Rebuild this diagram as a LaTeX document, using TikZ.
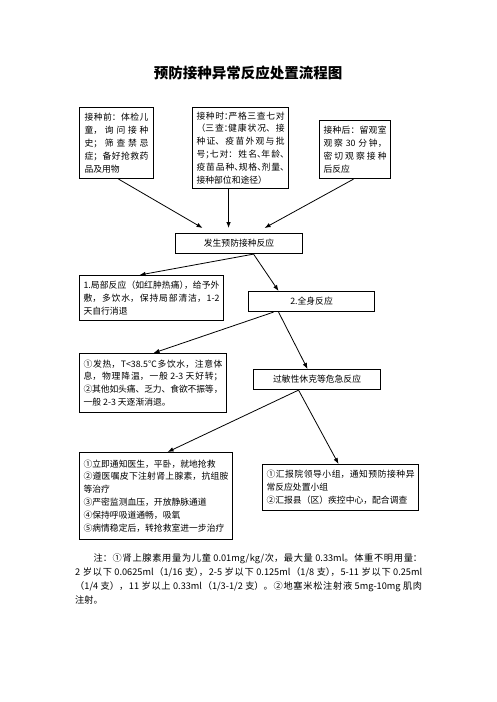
\documentclass[tikz,border=0pt]{standalone}
\usepackage{fontspec}
\setmainfont{Noto Sans CJK SC}
\usetikzlibrary{arrows.meta}
\XeTeXlinebreaklocale "zh"
\XeTeXlinebreakskip=0pt plus 2pt minus 0.3pt
\newcommand\hp[1]{\makebox[.5em][l]{#1}}
\tikzset{
  box/.style={draw, line width=1.1pt, inner xsep=4pt, inner ysep=0pt, anchor=north west,
    font=\fontsize{8.8}{12.9}\selectfont, align=justify},
  cbox/.style={draw, line width=1.1pt, inner sep=0pt, anchor=north west,
    font=\fontsize{8.8}{12.9}\selectfont, align=center},
  arr/.style={-{Latex[length=6pt,width=4.5pt]}, line width=0.8pt},
}
\begin{document}
\begin{tikzpicture}[x=1pt,y=-1pt]
\useasboundingbox (0,0) rectangle (496,702);
\node[font=\fontsize{14.5}{16}\selectfont\bfseries] (title) at (248,73) {预防接种异常反应处置流程图};

\node[box, minimum width=74, minimum height=71, text width=64, inner xsep=5pt] (b1) at (79,107)
 {接种前：体检儿\linebreak 童，询问接种\linebreak 史；筛查禁忌\linebreak 症；备好抢救药\linebreak 品及用物};
\node[box, minimum width=96, minimum height=81, text width=88] (b2) at (192,107)
 {接种时\hp{：}严格三查七对\linebreak （三查\hp{：}健康状况、接\linebreak 种证、疫苗外观与批\linebreak 号\hp{；}七对：姓名\hp{、}年龄\hp{、}\linebreak 疫苗品种\hp{、}规格\hp{、}剂量\hp{、}\linebreak 接种部位和途径）};
\node[box, minimum width=71, minimum height=58, text width=63] (b3) at (319,120)
 {接种后：留观室\linebreak 观察 30 分钟，\linebreak 密切观察接种\linebreak 后反应};

\node[cbox, minimum width=127, minimum height=20] (b4) at (175,233) {发生预防接种反应};

\node[box, minimum width=144, minimum height=45, text width=136] (b5) at (79,275)
 {1.局部反应（如红肿热痛\hp{）}，给予外\linebreak 敷，多饮水，保持局部清洁，1-2\linebreak 天自行消退};
\node[cbox, minimum width=126, minimum height=20] (b6) at (248,291) {2.全身反应};

\node[box, minimum width=147, minimum height=59, text width=139] (b7) at (79,353)
 {①发热，T<38.5℃多饮水，注意体\linebreak 息，物理降温，一般 2-3 天好转；\linebreak ②其他如头痛、乏力、食欲不振等，\linebreak 一般 2-3 天逐渐消退。};
\node[cbox, minimum width=127, minimum height=20] (b8) at (253,369) {过敏性休克等危急反应};

\node[box, minimum width=153, minimum height=87, text width=145] (b9) at (79,452)
 {①立即通知医生，平卧，就地抢救\\ ②遵医嘱皮下注射肾上腺素，抗组胺\linebreak 等治疗\\ ③严密监测血压，开放静脉通道\\ ④保持呼吸道通畅，吸氧\\ ⑤病情稳定后，转抢救室进一步治疗};
\node[box, minimum width=156, minimum height=46, text width=148] (b10) at (262,464)
 {①汇报院领导小组，通知预防接种异\linebreak 常反应处置小组\\ ②汇报县（区）疾控中心，配合调查};

\node[anchor=north west, inner sep=0pt, text width=347, align=justify,
      font=\fontsize{9.2}{14}\selectfont] (note) at (75,553)
 {\hspace*{2em}注：①肾上腺素用量为儿童 0.01mg/kg/次，最大量 0.33ml。体重不明用量：\linebreak 2 岁以下 0.0625ml（1/16 支\hp{）}，2-5 岁以下 0.125ml（1/8 支\hp{）}，5-11 岁以下 0.25ml\linebreak （1/4 支），11 岁以上 0.33ml（1/3-1/2 支）。②地塞米松注射液 5mg-10mg 肌肉\linebreak 注射。};

\draw[arr] ([xshift=2pt]b1.south) -- ([xshift=-36.5pt,yshift=5pt]b4.north);
\draw[arr] ([xshift=-12pt]b2.south) -- ([xshift=-10.5pt,yshift=5pt]b4.north);
\draw[arr] ([xshift=-1.5pt]b3.south) -- ([xshift=25.5pt,yshift=5pt]b4.north);
\draw[arr] ([xshift=14.5pt]b4.south) -- ([xshift=-12pt]b5.north);
\draw[arr] ([xshift=14.5pt]b4.south) -- ([xshift=-33pt]b6.north);
\draw[arr] ([xshift=-38pt]b6.south) -- ([xshift=0.5pt]b7.north);
\draw[arr] ([xshift=-33pt]b6.south) -- ([xshift=-9.5pt]b8.north);
\draw[arr] ([xshift=-18.5pt]b8.south) -- ([xshift=11.5pt]b9.north);
\draw[arr] ([xshift=-18.5pt]b8.south) -- ([xshift=-2pt]b10.north);
\end{tikzpicture}
\end{document}
